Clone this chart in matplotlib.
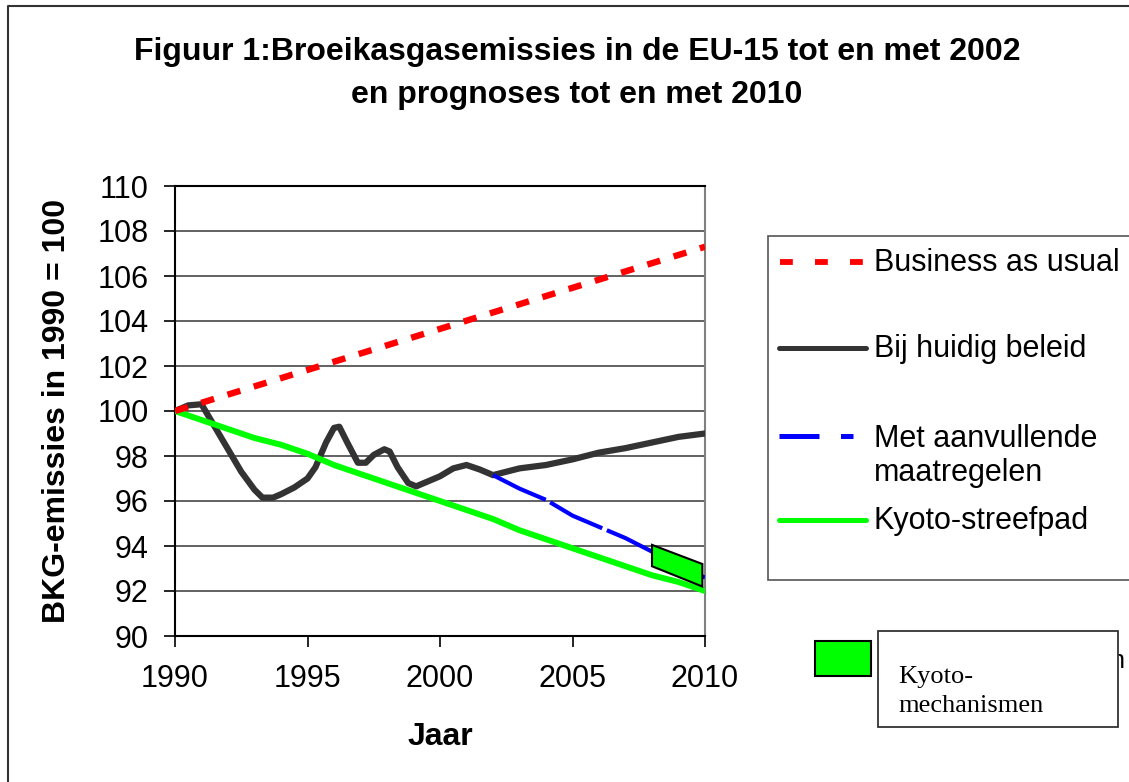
import matplotlib
matplotlib.use("Agg")
import matplotlib.pyplot as plt
from matplotlib.lines import Line2D
from matplotlib.patches import Rectangle, Polygon

plt.rcParams['font.family'] = ['Liberation Sans', 'DejaVu Sans']

# ---- data ----
bau_years = [1990, 2010]
bau_values = [100.0, 107.3]

policy_years = [1990, 1990.5, 1991, 1991.5, 1992, 1992.5, 1993, 1993.3, 1993.7, 1994,
                1994.5, 1995, 1995.3, 1995.7, 1996, 1996.2, 1996.5, 1996.9, 1997.2,
                1997.5, 1997.9, 1998.1, 1998.4, 1998.8, 1999.1, 1999.5, 2000, 2000.5,
                2001, 2001.5, 2002, 2003, 2004, 2005, 2006, 2007, 2008, 2009, 2010]
policy_values = [100.0, 100.25, 100.3, 99.3, 98.3, 97.3, 96.5, 96.15, 96.15, 96.3,
                 96.6, 97.0, 97.5, 98.6, 99.25, 99.3, 98.6, 97.7, 97.7,
                 98.05, 98.3, 98.2, 97.5, 96.8, 96.65, 96.85, 97.1, 97.45,
                 97.6, 97.4, 97.15, 97.45, 97.6, 97.85, 98.15, 98.35, 98.6, 98.85, 99.0]

extra_years = [2002, 2003, 2004, 2005, 2006, 2007, 2008, 2009, 2010]
extra_values = [97.15, 96.55, 96.05, 95.35, 94.85, 94.35, 93.75, 93.1, 92.6]

kyoto_years = list(range(1990, 2011))
kyoto_values = [100.0, 99.6, 99.2, 98.8, 98.5, 98.1, 97.6, 97.2, 96.8, 96.4, 96.0,
                95.6, 95.2, 94.7, 94.3, 93.9, 93.5, 93.1, 92.7, 92.4, 92.0]

mech_x = [2008, 2009.9, 2009.9, 2008]
mech_y = [94.05, 93.2, 92.2, 93.1]

x_ticks = [1990, 1995, 2000, 2005, 2010]
y_ticks = list(range(90, 111, 2))

title_lines = ["Figuur 1:Broeikasgasemissies in de EU-15 tot en met 2002",
               "en prognoses tot en met 2010"]
labels = ["Business as usual", "Bij huidig beleid", "Met aanvullende\nmaatregelen", "Kyoto-streefpad"]

# ---- figure ----
W, H = 1129, 782
fig = plt.figure(figsize=(W / 100, H / 100), dpi=100)

def fx(x):
    return x / W

def fy(y):
    return 1 - y / H

ax = fig.add_axes([fx(175), fy(636), fx(705) - fx(175), fy(186) - fy(636)])
ax.set_xlim(1990, 2010)
ax.set_ylim(90, 110)
ax.set_xticks(x_ticks)
ax.set_yticks(y_ticks)
ax.tick_params(axis='both', labelsize=22, direction='out', length=8, width=1.2)
ax.tick_params(axis='y', pad=11)
ax.tick_params(axis='x', pad=12)
ax.grid(axis='y', color='#555555', linewidth=1.3, zorder=0)
ax.set_axisbelow(True)
for s in ['left', 'bottom', 'top']:
    ax.spines[s].set_color('black')
    ax.spines[s].set_linewidth(1.5)
ax.spines['right'].set_color('#808080')
ax.spines['right'].set_linewidth(1.5)

ax.plot(policy_years, policy_values, color='#333333', lw=4.5, solid_capstyle='round',
        solid_joinstyle='round', zorder=3)
ax.plot(kyoto_years, kyoto_values, color='#00ff00', lw=4.3, solid_joinstyle='round', zorder=4)
ax.plot(extra_years, extra_values, color='#0000ff', lw=3.0, dashes=(14, 1.2), zorder=5)
ax.plot(bau_years, bau_values, color='#ff0000', lw=4.6, dashes=(2.1, 2.2), zorder=6)
ax.add_patch(Polygon(list(zip(mech_x, mech_y)), closed=True, facecolor='#00ff00',
                     edgecolor='black', lw=1.5, zorder=7))

ax.set_ylabel("BKG-emissies in 1990 = 100", fontsize=23, fontweight='bold')
ax.set_xlabel("Jaar", fontsize=23, fontweight='bold')
ax.yaxis.set_label_coords((57 - 175) / (705 - 175), 0.5)
ax.xaxis.set_label_coords((440 - 175) / (705 - 175), (636 - 737) / (636 - 186))
ax.xaxis.label.set_va('center')
ax.yaxis.label.set_va('center')

fig.text(fx(577), fy(52), title_lines[0], ha='center', va='center', fontsize=23, fontweight='bold')
fig.text(fx(577), fy(95), title_lines[1], ha='center', va='center', fontsize=23, fontweight='bold')

# figure border (top and left)
fig.add_artist(Line2D([fx(8), fx(8), fx(1129)], [fy(782), fy(6), fy(6)],
                      transform=fig.transFigure, color='#333333', lw=1.5))

# legend box
fig.add_artist(Rectangle((fx(768), fy(580)), fx(1135) - fx(768), fy(236) - fy(580),
                         transform=fig.transFigure, facecolor='white',
                         edgecolor='#555555', lw=1.2))
legend_styles = [
    dict(color='#ff0000', lw=4.2, dashes=(2.2, 3.8)),
    dict(color='#333333', lw=3.6, solid_capstyle='round'),
    dict(color='#0000ff', lw=3.6, dashes=(8, 4.3)),
    dict(color='#00ff00', lw=3.6, solid_capstyle='round'),
]
handle_y = [262, 348, 436, 520]
text_y = [263, 349, 456, 521]
handle_x1 = [780, 779, 779, 779]
handle_x2 = [866, 866, 853, 866]
for st, hy, ty, lab, x1, x2 in zip(legend_styles, handle_y, text_y, labels, handle_x1, handle_x2):
    fig.add_artist(Line2D([fx(x1), fx(x2)], [fy(hy), fy(hy)], transform=fig.transFigure, **st))
    fig.text(fx(874), fy(ty), lab, ha='left', va='center', fontsize=22, linespacing=1.15)

# Kyoto-mechanismen legend (the original label is hidden behind the text box; only its tail shows)
fig.text(fx(1124), fy(668), "n", ha='right', va='baseline', fontsize=18, zorder=1)
fig.add_artist(Rectangle((fx(815), fy(676)), fx(871) - fx(815), fy(641) - fy(676),
                         transform=fig.transFigure, facecolor='#00ff00',
                         edgecolor='black', lw=1.5, zorder=5))
fig.add_artist(Rectangle((fx(878), fy(727)), fx(1118) - fx(878), fy(631) - fy(727),
                         transform=fig.transFigure, facecolor='white',
                         edgecolor='#333333', lw=1.3, zorder=5))
fig.text(fx(898), fy(683), "Kyoto-", ha='left', va='baseline', fontsize=19,
         family=['Liberation Serif', 'DejaVu Serif'], zorder=6)
fig.text(fx(898), fy(712), "mechanismen", ha='left', va='baseline', fontsize=19,
         family=['Liberation Serif', 'DejaVu Serif'], zorder=6)

fig.savefig("out.png", dpi=100, facecolor='white')
